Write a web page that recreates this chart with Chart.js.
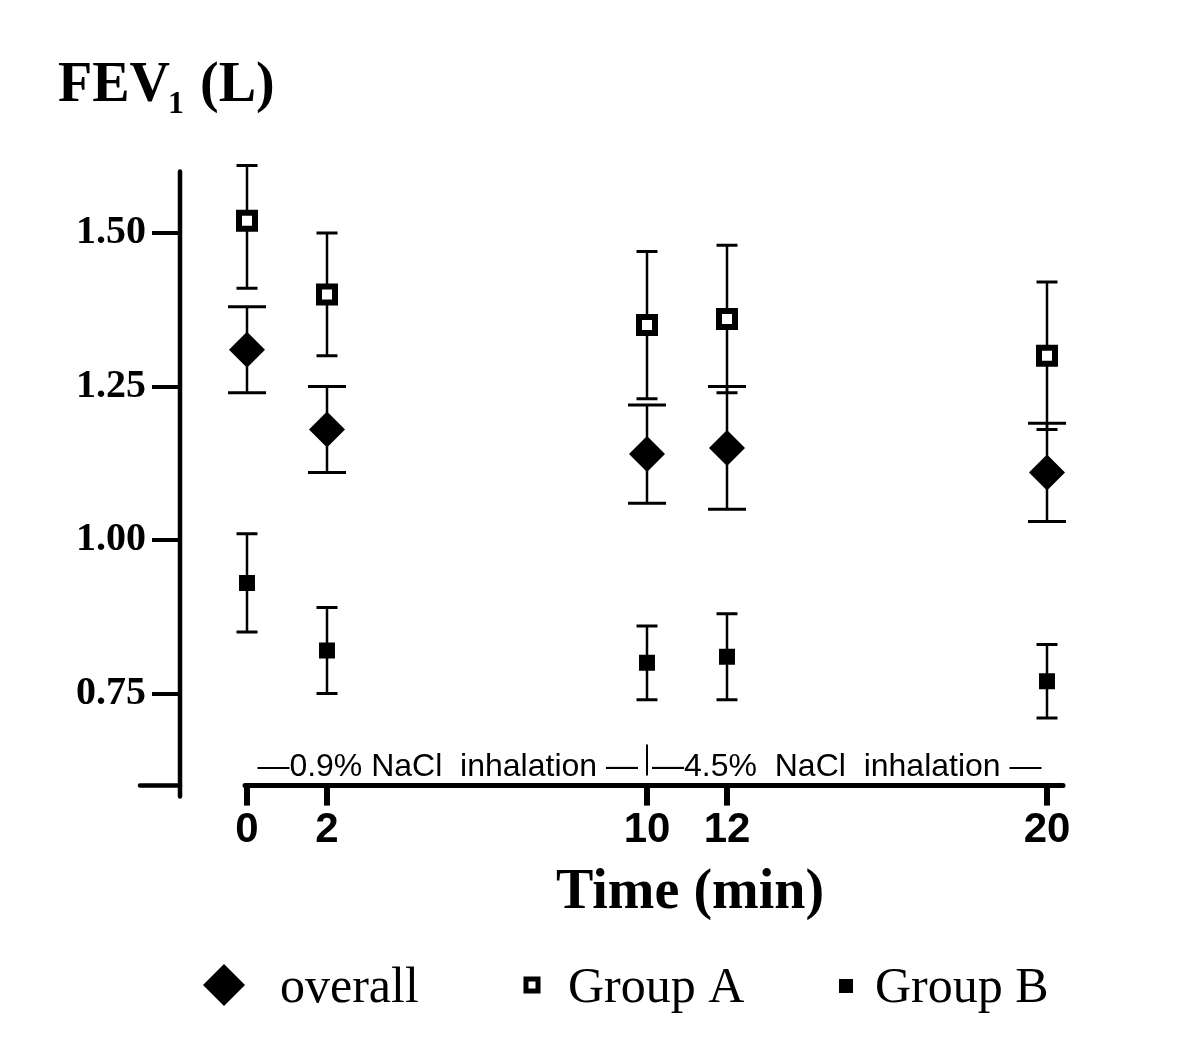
<!DOCTYPE html>
<html>
<head>
<meta charset="utf-8">
<script src="https://cdn.jsdelivr.net/npm/chart.js@4.4.1/dist/chart.umd.min.js"></script>
<style>
  html, body { margin: 0; background: #fff; overflow: hidden; }
  #wrap { width: 1200px; height: 1051px; position: relative; }
</style>
</head>
<body>
<div id="wrap"><canvas id="myChart"></canvas></div>
<script>
// FEV1 over time, mean with error bars
const times = [0, 2, 10, 12, 20];

const overallMean = [1.31, 1.18, 1.14, 1.15, 1.11];
const overallLow  = [1.24, 1.11, 1.06, 1.05, 1.03];
const overallHigh = [1.38, 1.25, 1.22, 1.25, 1.19];

const groupAMean = [1.52, 1.40, 1.35, 1.36, 1.30];
const groupALow  = [1.41, 1.30, 1.23, 1.24, 1.18];
const groupAHigh = [1.61, 1.50, 1.47, 1.48, 1.42];

const groupBMean = [0.93, 0.82, 0.80, 0.81, 0.77];
const groupBLow  = [0.85, 0.75, 0.74, 0.74, 0.71];
const groupBHigh = [1.01, 0.89, 0.86, 0.88, 0.83];

const yTicks = [0.75, 1.00, 1.25, 1.50];
const xTicks = [0, 2, 10, 12, 20];
const seriesNames = ['overall', 'Group A', 'Group B'];
const yTitle = 'FEV';
const yTitleSub = '1';
const yTitleUnit = '(L)';
const xTitle = 'Time (min)';
const phaseLabels = ['\u20140.9% NaCl  inhalation \u2014', '\u20144.5%  NaCl  inhalation \u2014'];

const SERIF = '"Liberation Serif", "Times New Roman", serif';
const SANS = '"Liberation Sans", Arial, sans-serif';

const toPoints = (ys) => times.map((t, i) => ({ x: t, y: ys[i] }));

const errorBars = {
  id: 'errorBars',
  beforeDatasetsDraw(chart) {
    const { ctx, scales: { x, y } } = chart;
    ctx.save();
    ctx.strokeStyle = '#000';
    chart.data.datasets.forEach((ds) => {
      ds.errLow.forEach((lo, i) => {
        const px = x.getPixelForValue(times[i]);
        const yLo = y.getPixelForValue(lo);
        const yHi = y.getPixelForValue(ds.errHigh[i]);
        ctx.lineWidth = 2.5;
        ctx.beginPath();
        ctx.moveTo(px, yLo);
        ctx.lineTo(px, yHi);
        ctx.stroke();
        ctx.lineWidth = 3;
        ctx.beginPath();
        ctx.moveTo(px - ds.capHalf, yLo); ctx.lineTo(px + ds.capHalf, yLo);
        ctx.moveTo(px - ds.capHalf, yHi); ctx.lineTo(px + ds.capHalf, yHi);
        ctx.stroke();
      });
    });
    ctx.restore();
  }
};

const extras = {
  id: 'extras',
  afterDraw(chart) {
    const { ctx, chartArea, scales: { x, y } } = chart;
    ctx.save();
    ctx.strokeStyle = '#000';
    ctx.fillStyle = '#000';

    // y axis line + bottom tick
    ctx.lineWidth = 4.5;
    ctx.lineCap = 'round';
    ctx.beginPath();
    ctx.moveTo(chartArea.left, y.getPixelForValue(1.6));
    ctx.lineTo(chartArea.left, y.getPixelForValue(0.6) + 11);
    ctx.stroke();
    ctx.beginPath();
    ctx.moveTo(chartArea.left - 40, y.getPixelForValue(0.6));
    ctx.lineTo(chartArea.left, y.getPixelForValue(0.6));
    ctx.stroke();

    // x axis line
    ctx.lineWidth = 5;
    ctx.beginPath();
    ctx.moveTo(x.getPixelForValue(0) - 2, chartArea.bottom);
    ctx.lineTo(x.getPixelForValue(20) + 16, chartArea.bottom);
    ctx.stroke();
    ctx.lineCap = 'butt';

    // phase annotation
    const x10 = x.getPixelForValue(10);
    const base = chartArea.bottom - 10;
    ctx.font = '32px ' + SANS;
    ctx.textBaseline = 'alphabetic';
    ctx.textAlign = 'right';
    ctx.fillText(phaseLabels[0], x10 - 9, base);
    ctx.textAlign = 'left';
    ctx.fillText(phaseLabels[1], x10 + 5, base);
    ctx.lineWidth = 2;
    ctx.beginPath();
    ctx.moveTo(x10, base - 31);
    ctx.lineTo(x10, base);
    ctx.stroke();

    // y title with subscript
    ctx.textAlign = 'left';
    ctx.font = 'bold 56px ' + SERIF;
    ctx.fillText(yTitle, 58, 101);
    let tx = 58 + ctx.measureText(yTitle).width - 2;
    ctx.font = 'bold 32px ' + SERIF;
    ctx.fillText(yTitleSub, tx, 113);
    tx += ctx.measureText(yTitleSub).width + 16;
    ctx.font = 'bold 56px ' + SERIF;
    ctx.fillText(yTitleUnit, tx, 101);

    // legend
    const ly = 985;
    ctx.beginPath();
    ctx.moveTo(224, ly - 21); ctx.lineTo(245, ly); ctx.lineTo(224, ly + 21); ctx.lineTo(203, ly);
    ctx.closePath();
    ctx.fill();
    ctx.fillRect(532 - 8.5, ly - 8.5, 17, 17);
    ctx.fillStyle = '#fff';
    ctx.fillRect(532 - 3.5, ly - 3.5, 7, 7);
    ctx.fillStyle = '#000';
    ctx.fillRect(846 - 7, ly - 6, 14, 14);
    ctx.font = '50px ' + SERIF;
    ctx.fillText(seriesNames[0], 280, 1002);
    ctx.fillText(seriesNames[1], 568, 1002);
    ctx.fillText(seriesNames[2], 875, 1002);

    ctx.restore();
  }
};

const ctx = document.getElementById('myChart').getContext('2d');
const myChart = new Chart(ctx, {
  type: 'scatter',
  data: {
    datasets: [
      {
        label: seriesNames[0],
        data: toPoints(overallMean),
        errLow: overallLow, errHigh: overallHigh, capHalf: 19,
        pointStyle: 'rectRot', pointRadius: 18, pointHoverRadius: 18,
        backgroundColor: '#000', borderColor: '#000', borderWidth: 0,
        order: 1
      },
      {
        label: seriesNames[1],
        data: toPoints(groupAMean),
        errLow: groupALow, errHigh: groupAHigh, capHalf: 10.5,
        pointStyle: 'rect', pointRadius: 11.3, pointHoverRadius: 11.3,
        backgroundColor: '#fff', borderColor: '#000', borderWidth: 6,
        order: 2
      },
      {
        label: seriesNames[2],
        data: toPoints(groupBMean),
        errLow: groupBLow, errHigh: groupBHigh, capHalf: 10.5,
        pointStyle: 'rect', pointRadius: 11.3, pointHoverRadius: 11.3,
        backgroundColor: '#000', borderColor: '#000', borderWidth: 0,
        order: 3
      }
    ]
  },
  options: {
    responsive: true,
    maintainAspectRatio: false,
    animation: false,
    layout: { autoPadding: false, padding: { left: 0, right: 0, top: 171.6, bottom: 123.4 } },
    plugins: {
      legend: { display: false },
      tooltip: { enabled: false }
    },
    scales: {
      x: {
        type: 'linear',
        min: -1.675,
        max: 23.825,
        afterBuildTicks: (scale) => { scale.ticks = xTicks.map(v => ({ value: v })); },
        afterFit: (scale) => { scale.height = 142; },
        border: { display: false },
        grid: { drawOnChartArea: false, tickLength: 20, tickWidth: 6, tickColor: '#000', lineWidth: 6, color: '#000' },
        ticks: {
          padding: 0, maxRotation: 0, autoSkip: false, color: '#000',
          font: { family: SANS, size: 42, weight: 'bold' }
        },
        title: {
          display: true, text: xTitle, color: '#000', padding: 0,
          font: { family: SERIF, size: 56, weight: 'bold', lineHeight: 1.2 }
        }
      },
      y: {
        min: 0.6,
        max: 1.6,
        afterBuildTicks: (scale) => { scale.ticks = yTicks.map(v => ({ value: v })); },
        afterFit: (scale) => { scale.width = 180; },
        border: { display: false },
        grid: { drawOnChartArea: false, tickLength: 28, tickWidth: 4, tickColor: '#000', lineWidth: 4, color: '#000' },
        ticks: {
          padding: 6, color: '#000',
          font: { family: SERIF, size: 40, weight: 'bold' },
          callback: (v) => Number(v).toFixed(2)
        }
      }
    }
  },
  plugins: [errorBars, extras]
});
</script>
</body>
</html>
